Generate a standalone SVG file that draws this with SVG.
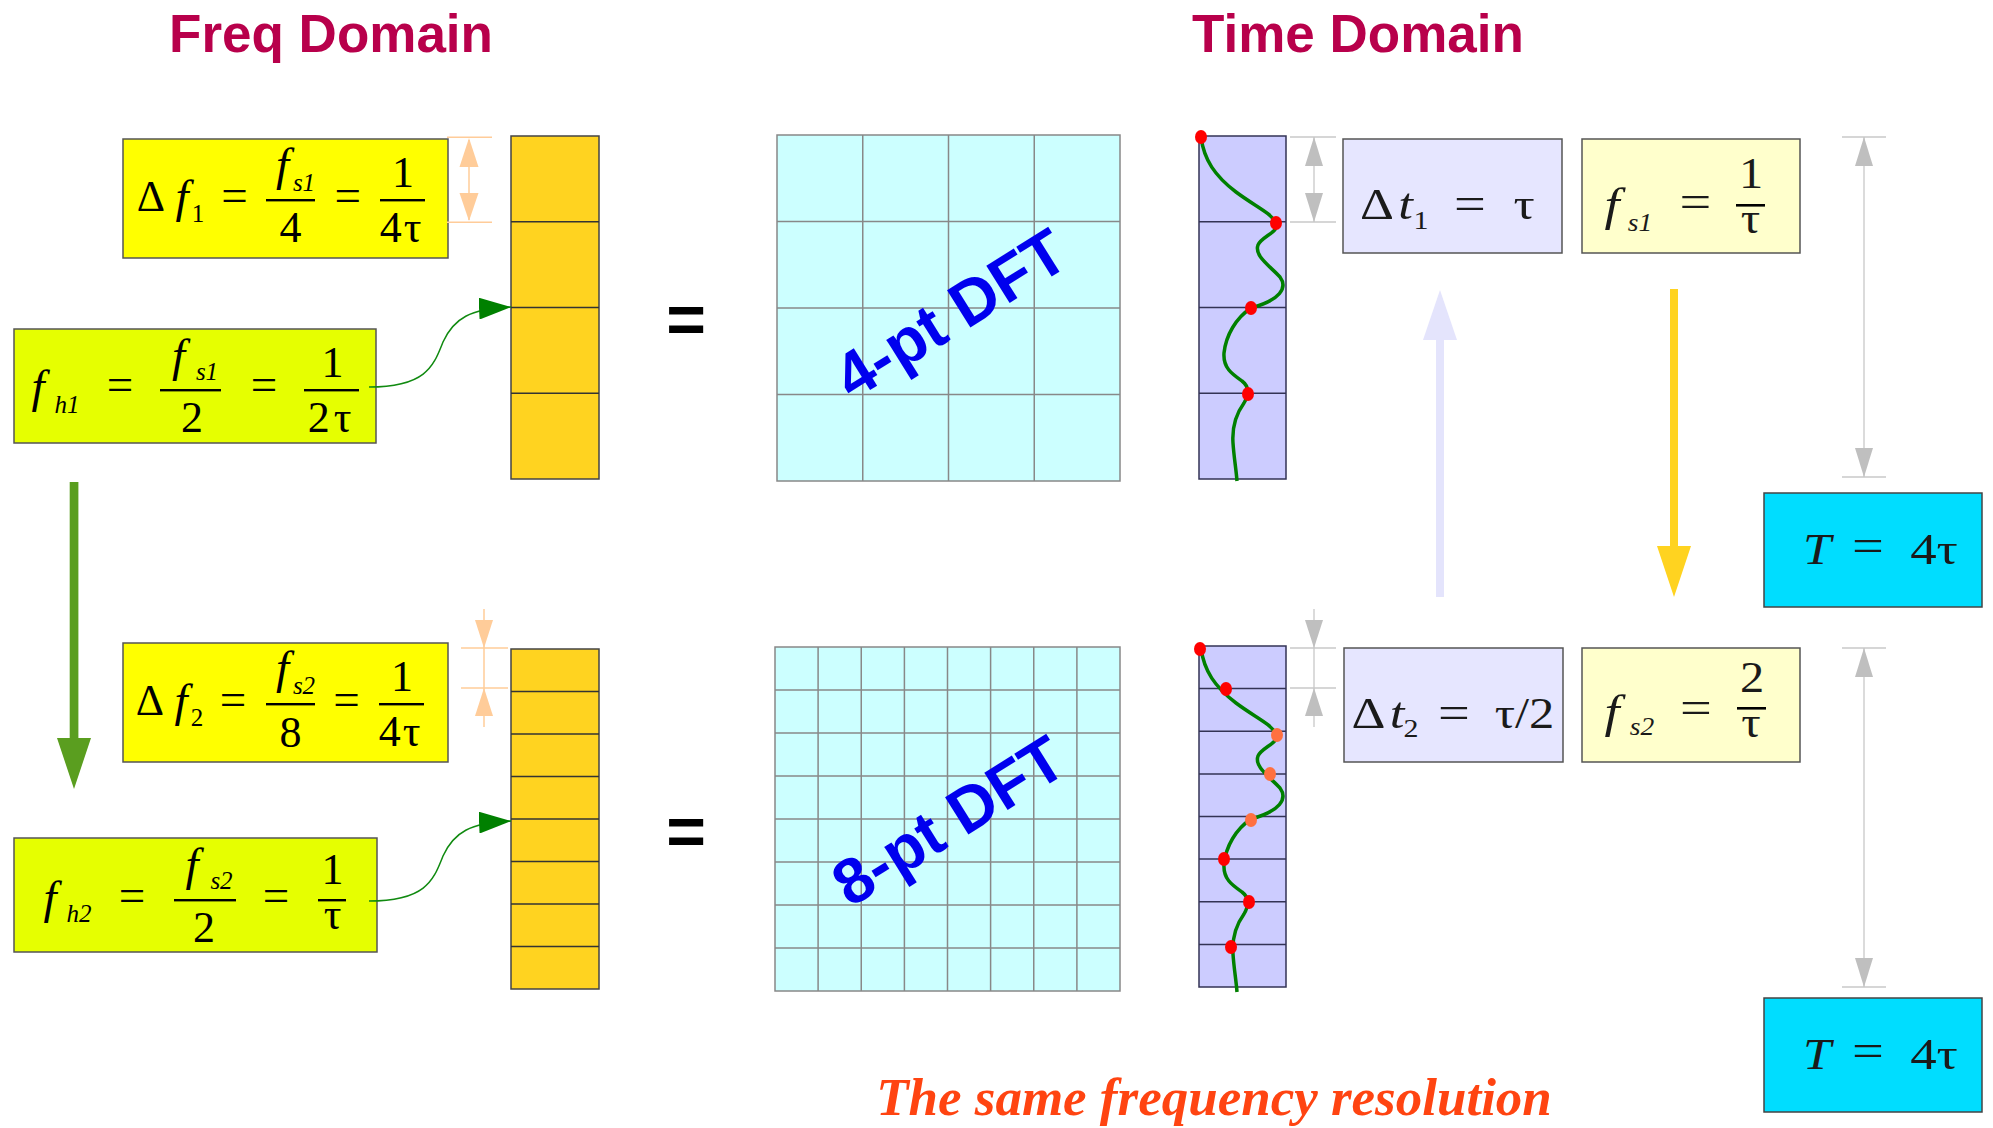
<svg xmlns="http://www.w3.org/2000/svg" width="1993" height="1128" viewBox="0 0 1993 1128">
<defs>
<style>
.ttl{font-family:"Liberation Sans",Arial,sans-serif;font-weight:bold;font-size:53px;fill:#B8004B;text-anchor:middle}
.m{font-family:"Liberation Serif","Times New Roman",serif;font-size:44px;fill:#000;text-anchor:middle}
.r{fill:#1a1a1a}
.i{font-style:italic}
.f{font-size:47px}
.q{font-size:47px}
.s{font-size:25px}
.bar{fill:#000}
.box{stroke:#555;stroke-width:1.5}
.gl{stroke:#888;stroke-width:1.5}
.cl{stroke:#333;stroke-width:1.5}
.tl{stroke:#333355;stroke-width:1.5}
.dft{font-family:"Liberation Sans",Arial,sans-serif;font-weight:bold;font-size:64px;fill:#0000EE;text-anchor:middle}
.eq{font-family:"Liberation Sans",Arial,sans-serif;font-weight:bold;font-size:68px;fill:#000;text-anchor:middle}
.gd{stroke:#C8C8C8;stroke-width:1.3;fill:none}
.gh{fill:#BFBFBF}
.od{stroke:#FFCC99;stroke-width:1.5;fill:none}
.oh{fill:#FFCC99}
.wave{fill:none;stroke:#008000;stroke-width:3.5}
.dot{fill:#FF0000}
.dot2{fill:#FF7040}
.conn{fill:none;stroke:#108A10;stroke-width:1.5}
</style>
<marker id="ah" viewBox="0 0 32 22" refX="32" refY="11" markerWidth="32" markerHeight="22" markerUnits="userSpaceOnUse" orient="auto">
<path d="M0,0 L32,11 L0,22 z" fill="#008000"/>
</marker>
<path id="wv" d="M1201,137 C1204,160 1215,176 1236,192 C1256,207 1270,212 1276,223 C1280,232 1262,236 1258,245 C1254,256 1270,266 1280,277 C1288,288 1280,300 1251,308 C1236,318 1226,335 1224,353 C1223,368 1232,374 1242,381 C1250,387 1248,396 1244,403 C1236,414 1232,428 1233,443 C1234,458 1236,468 1237,481"/>
</defs>
<rect width="1993" height="1128" fill="#fff"/>

<g id="titles">
<text class="ttl" x="331" y="52">Freq Domain</text>
<text class="ttl" x="1358" y="52">Time Domain</text>
</g>

<g id="df1">
<rect class="box" x="123" y="139" width="325" height="119" fill="#FFFF00"/>
<text class="m" x="151" y="211">Δ</text>
<text class="m i f" x="182" y="212">f</text>
<text class="m s" x="198" y="222">1</text>
<text class="m q" x="234.5" y="211">=</text>
<rect class="bar" x="266" y="199" width="49" height="2.4"/>
<text class="m i f" x="282.5" y="180">f</text>
<text class="m i s" x="304" y="191">s1</text>
<text class="m" x="290.5" y="242">4</text>
<text class="m q" x="347.7" y="211">=</text>
<rect class="bar" x="380" y="199" width="45" height="2.4"/>
<text class="m" x="403" y="187">1</text>
<text class="m" x="401.5" y="242" letter-spacing="2">4τ</text>
</g>

<g id="fh1">
<rect class="box" x="14" y="329" width="362" height="114" fill="#E6FF00"/>
<text class="m i f" x="38" y="402">f</text>
<text class="m i s" x="67" y="413">h1</text>
<text class="m q" x="120" y="400">=</text>
<rect class="bar" x="160" y="389" width="61" height="2.4"/>
<text class="m i f" x="178.5" y="371">f</text>
<text class="m i s" x="207" y="380">s1</text>
<text class="m" x="192" y="432">2</text>
<text class="m q" x="264" y="400">=</text>
<rect class="bar" x="304" y="389" width="55" height="2.4"/>
<text class="m" x="332.5" y="377">1</text>
<text class="m" x="331.5" y="432" letter-spacing="4">2τ</text>
</g>

<g id="df2">
<rect class="box" x="123" y="643" width="325" height="119" fill="#FFFF00"/>
<text class="m" x="150" y="715">Δ</text>
<text class="m i f" x="181" y="716">f</text>
<text class="m s" x="197" y="726">2</text>
<text class="m q" x="233" y="715">=</text>
<rect class="bar" x="266" y="703" width="49" height="2.4"/>
<text class="m i f" x="282.5" y="683">f</text>
<text class="m i s" x="304" y="694">s2</text>
<text class="m" x="290.5" y="747">8</text>
<text class="m q" x="346.5" y="715">=</text>
<rect class="bar" x="379" y="703" width="45" height="2.4"/>
<text class="m" x="402" y="691">1</text>
<text class="m" x="400.5" y="746" letter-spacing="2">4τ</text>
</g>

<g id="fh2">
<rect class="box" x="14" y="838" width="363" height="114" fill="#E6FF00"/>
<text class="m i f" x="50" y="913">f</text>
<text class="m i s" x="79" y="922">h2</text>
<text class="m q" x="132" y="911">=</text>
<rect class="bar" x="174" y="899" width="62" height="2.4"/>
<text class="m i f" x="192" y="880">f</text>
<text class="m i s" x="221.5" y="889">s2</text>
<text class="m" x="204" y="942">2</text>
<text class="m q" x="276" y="911">=</text>
<rect class="bar" x="318" y="899" width="28" height="2.4"/>
<text class="m" x="332.5" y="884">1</text>
<text class="m" x="332.5" y="929">τ</text>
</g>

<g id="col1">
<rect x="511" y="136" width="88" height="343" fill="#FFD320" stroke="#444" stroke-width="1.5"/>
<line class="cl" x1="511" y1="221.75" x2="599" y2="221.75"/>
<line class="cl" x1="511" y1="307.5" x2="599" y2="307.5"/>
<line class="cl" x1="511" y1="393.25" x2="599" y2="393.25"/>
</g>

<g id="col2">
<rect x="511" y="649" width="88" height="340" fill="#FFD320" stroke="#444" stroke-width="1.5"/>
<line class="cl" x1="511" y1="691.5" x2="599" y2="691.5"/>
<line class="cl" x1="511" y1="734" x2="599" y2="734"/>
<line class="cl" x1="511" y1="776.5" x2="599" y2="776.5"/>
<line class="cl" x1="511" y1="819" x2="599" y2="819"/>
<line class="cl" x1="511" y1="861.5" x2="599" y2="861.5"/>
<line class="cl" x1="511" y1="904" x2="599" y2="904"/>
<line class="cl" x1="511" y1="946.5" x2="599" y2="946.5"/>
</g>

<g id="eqsigns">
<text class="eq" x="686" y="343">=</text>
<text class="eq" x="686" y="855">=</text>
</g>

<g id="dft4">
<rect x="777" y="135" width="343" height="346" fill="#CCFFFF" stroke="#888" stroke-width="1.5"/>
<line class="gl" x1="862.75" y1="135" x2="862.75" y2="481"/>
<line class="gl" x1="948.5" y1="135" x2="948.5" y2="481"/>
<line class="gl" x1="1034.25" y1="135" x2="1034.25" y2="481"/>
<line class="gl" x1="777" y1="221.5" x2="1120" y2="221.5"/>
<line class="gl" x1="777" y1="308" x2="1120" y2="308"/>
<line class="gl" x1="777" y1="394.5" x2="1120" y2="394.5"/>
<text class="dft" transform="translate(950,313) rotate(-32)" x="0" y="23">4-pt DFT</text>
</g>

<g id="dft8">
<rect x="775" y="647" width="345" height="344" fill="#CCFFFF" stroke="#888" stroke-width="1.5"/>
<line class="gl" x1="818.1" y1="647" x2="818.1" y2="991"/>
<line class="gl" x1="861.25" y1="647" x2="861.25" y2="991"/>
<line class="gl" x1="904.4" y1="647" x2="904.4" y2="991"/>
<line class="gl" x1="947.5" y1="647" x2="947.5" y2="991"/>
<line class="gl" x1="990.6" y1="647" x2="990.6" y2="991"/>
<line class="gl" x1="1033.75" y1="647" x2="1033.75" y2="991"/>
<line class="gl" x1="1076.9" y1="647" x2="1076.9" y2="991"/>
<line class="gl" x1="775" y1="690" x2="1120" y2="690"/>
<line class="gl" x1="775" y1="733" x2="1120" y2="733"/>
<line class="gl" x1="775" y1="776" x2="1120" y2="776"/>
<line class="gl" x1="775" y1="819" x2="1120" y2="819"/>
<line class="gl" x1="775" y1="862" x2="1120" y2="862"/>
<line class="gl" x1="775" y1="905" x2="1120" y2="905"/>
<line class="gl" x1="775" y1="948" x2="1120" y2="948"/>
<text class="dft" transform="translate(948,820) rotate(-32)" x="0" y="23">8-pt DFT</text>
</g>

<g id="time1">
<rect x="1199" y="136" width="87" height="343" fill="#CCCCFF" stroke="#333355" stroke-width="1.5"/>
<line class="tl" x1="1199" y1="221.75" x2="1286" y2="221.75"/>
<line class="tl" x1="1199" y1="307.5" x2="1286" y2="307.5"/>
<line class="tl" x1="1199" y1="393.25" x2="1286" y2="393.25"/>
<use href="#wv" class="wave"/>
<ellipse class="dot" cx="1201" cy="137" rx="6" ry="7"/>
<ellipse class="dot" cx="1276" cy="223" rx="6" ry="7"/>
<ellipse class="dot" cx="1251" cy="308" rx="6" ry="7"/>
<ellipse class="dot" cx="1248" cy="394" rx="6" ry="7"/>
</g>

<g id="time2">
<rect x="1199" y="646" width="87" height="341" fill="#CCCCFF" stroke="#333355" stroke-width="1.5"/>
<line class="tl" x1="1199" y1="688.6" x2="1286" y2="688.6"/>
<line class="tl" x1="1199" y1="731.25" x2="1286" y2="731.25"/>
<line class="tl" x1="1199" y1="773.9" x2="1286" y2="773.9"/>
<line class="tl" x1="1199" y1="816.5" x2="1286" y2="816.5"/>
<line class="tl" x1="1199" y1="859.1" x2="1286" y2="859.1"/>
<line class="tl" x1="1199" y1="901.75" x2="1286" y2="901.75"/>
<line class="tl" x1="1199" y1="944.4" x2="1286" y2="944.4"/>
<use href="#wv" class="wave" transform="translate(0,511)"/>
<ellipse class="dot" cx="1200" cy="649" rx="6" ry="7"/>
<ellipse class="dot" cx="1226" cy="689" rx="6" ry="7"/>
<ellipse class="dot2" cx="1277" cy="735" rx="6" ry="7"/>
<ellipse class="dot2" cx="1270" cy="774" rx="6" ry="7"/>
<ellipse class="dot2" cx="1251" cy="820" rx="6" ry="7"/>
<ellipse class="dot" cx="1224" cy="859" rx="6" ry="7"/>
<ellipse class="dot" cx="1249" cy="902" rx="6" ry="7"/>
<ellipse class="dot" cx="1231" cy="947" rx="6" ry="7"/>
</g>

<g id="dt1">
<rect class="box" x="1343" y="139" width="219" height="114" fill="#E6E6FF"/>
<text class="m r" transform="translate(1377,219) scale(1.2,1)">Δ</text>
<text class="m r i" transform="translate(1405.5,219) scale(1.2,1)">t</text>
<text class="m r s" transform="translate(1421,229) scale(1.2,1)">1</text>
<text class="m r q" transform="translate(1470,219) scale(1.2,1)">=</text>
<text class="m r" transform="translate(1524,219) scale(1.2,1)">τ</text>
</g>

<g id="fs1">
<rect class="box" x="1582" y="139" width="218" height="114" fill="#FFFFCC"/>
<text class="m r i f" transform="translate(1612,220) scale(1.15,1)">f</text>
<text class="m r i s" transform="translate(1640,231) scale(1.1,1)">s1</text>
<text class="m r q" transform="translate(1695.5,217) scale(1.2,1)">=</text>
<rect class="bar" x="1736" y="204" width="29" height="2.6"/>
<text class="m r" transform="translate(1751,188) scale(1.1,1)">1</text>
<text class="m r" transform="translate(1750.5,233) scale(1.1,1)">τ</text>
</g>

<g id="dt2">
<rect class="box" x="1344" y="648" width="219" height="114" fill="#E6E6FF"/>
<text class="m r" transform="translate(1368.5,728) scale(1.2,1)">Δ</text>
<text class="m r i" transform="translate(1397,728) scale(1.2,1)">t</text>
<text class="m r s" transform="translate(1411,737) scale(1.2,1)">2</text>
<text class="m r q" transform="translate(1454,728) scale(1.2,1)">=</text>
<text class="m r" transform="translate(1524.5,728) scale(1.15,1)">τ/2</text>
</g>

<g id="fs2">
<rect class="box" x="1582" y="648" width="218" height="114" fill="#FFFFCC"/>
<text class="m r i f" transform="translate(1612,727) scale(1.15,1)">f</text>
<text class="m r i s" transform="translate(1642,735) scale(1.1,1)">s2</text>
<text class="m r q" transform="translate(1696,723) scale(1.2,1)">=</text>
<rect class="bar" x="1737" y="707" width="29" height="2.6"/>
<text class="m r" transform="translate(1752,692) scale(1.1,1)">2</text>
<text class="m r" transform="translate(1751,737) scale(1.1,1)">τ</text>
</g>

<g id="T1">
<rect x="1764" y="493" width="218" height="114" fill="#00DDFF" stroke="#444" stroke-width="1.5"/>
<text class="m r i" transform="translate(1817,564) scale(1.15,1)">T</text>
<text class="m r q" transform="translate(1868,561) scale(1.2,1)">=</text>
<text class="m r" transform="translate(1934,564) scale(1.2,1)">4τ</text>
</g>

<g id="T2">
<rect x="1764" y="998" width="218" height="114" fill="#00DDFF" stroke="#444" stroke-width="1.5"/>
<text class="m r i" transform="translate(1817,1069) scale(1.15,1)">T</text>
<text class="m r q" transform="translate(1868,1066) scale(1.2,1)">=</text>
<text class="m r" transform="translate(1934,1069) scale(1.2,1)">4τ</text>
</g>

<g id="connectors">
<path class="conn" d="M369,387 C428,387 434,364 443,342 C454,318 470,309 511,307" marker-end="url(#ah)"/>
<path class="conn" d="M369,901 C428,901 434,878 443,856 C454,832 470,823 511,821" marker-end="url(#ah)"/>
<rect x="69.7" y="482" width="8.7" height="257" fill="#5A9E1F"/>
<polygon points="57,738 91,738 74,789" fill="#5A9E1F"/>
<rect x="1436" y="338" width="8" height="259" fill="#E4E4FC"/>
<polygon points="1440,290 1423,340 1457,340" fill="#E4E4FC"/>
<rect x="1670" y="289" width="8" height="258" fill="#FFD320"/>
<polygon points="1657,546 1691,546 1674,597" fill="#FFD320"/>
<line class="od" x1="469" y1="140" x2="469" y2="220"/>
<line class="od" x1="447" y1="137.3" x2="492" y2="137.3" stroke-width="1"/>
<line class="od" x1="447" y1="222.3" x2="492" y2="222.3" stroke-width="1"/>
<polygon class="oh" points="469,138 459.5,167 478.5,167"/>
<polygon class="oh" points="469,221 459.5,193 478.5,193"/>
<line class="od" x1="484" y1="609" x2="484" y2="727"/>
<line class="od" x1="461" y1="648" x2="508" y2="648" stroke-width="1"/>
<line class="od" x1="461" y1="688" x2="508" y2="688" stroke-width="1"/>
<polygon class="oh" points="484,648 475,620 493,620"/>
<polygon class="oh" points="484,688 475,716 493,716"/>
<line class="gd" x1="1314" y1="137" x2="1314" y2="222"/>
<line class="gd" x1="1290" y1="137" x2="1336" y2="137"/>
<line class="gd" x1="1290" y1="222" x2="1336" y2="222"/>
<polygon class="gh" points="1314,137 1305,166 1323,166"/>
<polygon class="gh" points="1314,222 1305,193 1323,193"/>
<line class="gd" x1="1314" y1="609" x2="1314" y2="727"/>
<line class="gd" x1="1290" y1="648" x2="1336" y2="648"/>
<line class="gd" x1="1290" y1="688" x2="1336" y2="688"/>
<polygon class="gh" points="1314,648 1305,620 1323,620"/>
<polygon class="gh" points="1314,688 1305,716 1323,716"/>
<line class="gd" x1="1864" y1="137" x2="1864" y2="477"/>
<line class="gd" x1="1842" y1="137" x2="1886" y2="137"/>
<line class="gd" x1="1842" y1="477" x2="1886" y2="477"/>
<polygon class="gh" points="1864,137 1855,166 1873,166"/>
<polygon class="gh" points="1864,477 1855,448 1873,448"/>
<line class="gd" x1="1864" y1="648" x2="1864" y2="987"/>
<line class="gd" x1="1842" y1="648" x2="1886" y2="648"/>
<line class="gd" x1="1842" y1="987" x2="1886" y2="987"/>
<polygon class="gh" points="1864,648 1855,677 1873,677"/>
<polygon class="gh" points="1864,987 1855,958 1873,958"/>
</g>

<g id="caption">
<text x="1214" y="1115" font-family="'Liberation Serif','Times New Roman',serif" font-weight="bold" font-style="italic" font-size="53" fill="#FF4411" text-anchor="middle">The same frequency resolution</text>
</g>
</svg>
